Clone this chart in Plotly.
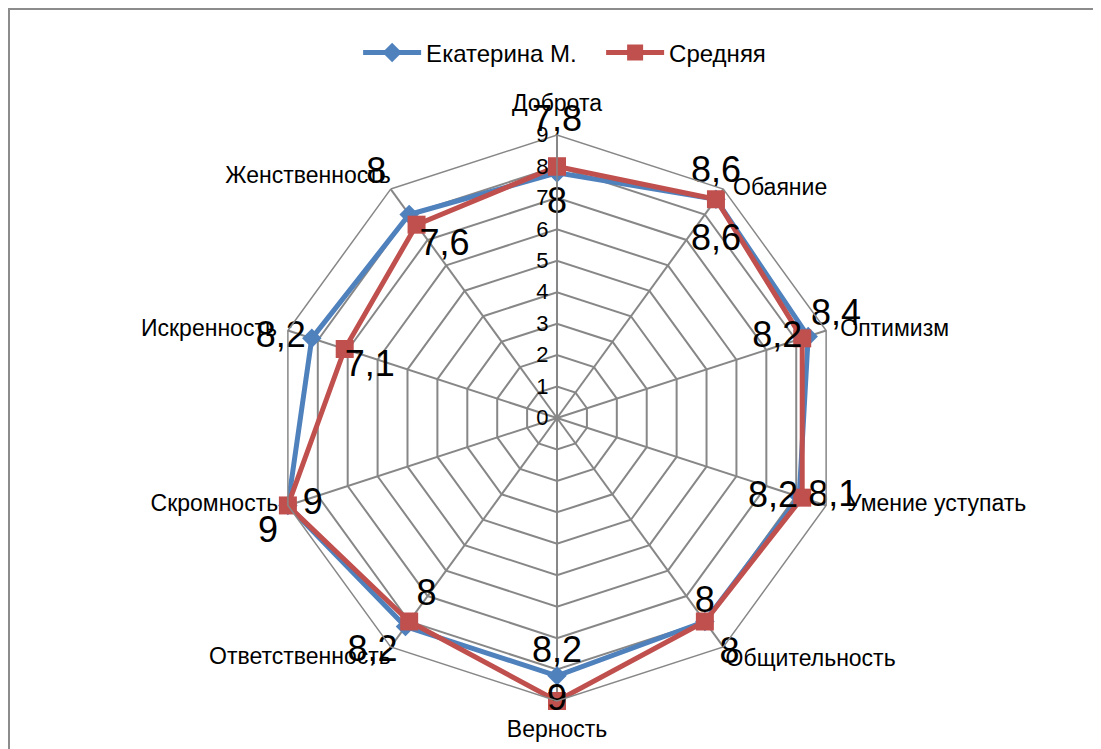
import plotly.graph_objects as go

# данные
categories = ["Доброта", "Обаяние", "Оптимизм", "Умение уступать", "Общительность",
              "Верность", "Ответственность", "Скромность", "Искренность", "Женственность"]
ekaterina = [7.8, 8.6, 8.4, 8.1, 8, 8.2, 8.2, 9, 8.2, 8]
srednyaya = [8, 8.6, 8.2, 8.2, 8, 9, 8, 9, 7.1, 7.6]
radial_ticks = list(range(0, 10))
R_MAX = radial_ticks[-1]

BLUE = "#4F81BD"
RED = "#C0504D"
GRID = "#878787"
FONT = "Liberation Sans"

# расположение подписей данных (как в исходной диаграмме)
ek_pos = ["top center", "top center", "top right", "middle right", "bottom right",
          "top center", "bottom left", "bottom left", "middle left", "top left"]
ek_pad = [51, 11, 3, 13, 22, 6, 11, 14, 8, 35]
sr_pos = ["bottom center", "bottom center", "middle left", "middle left", "top center",
          "middle center", "top right", "middle right", "bottom right", "bottom right"]
sr_pad = [29, 37, 0, 5, 0, 0, 10, 22, 0, 3]
# подписи категорий
cat_pos = ["top center", "middle right", "middle right", "middle right", "bottom right",
           "bottom center", "bottom left", "middle left", "middle left", "top left"]
cat_pad = [27, 14, 21, 32, 2, 29, 0, 14, 16, 0]


def fmt(v):
    return f"{v:g}".replace(".", ",")


def closed(lst):
    return list(lst) + [lst[0]]


fig = go.Figure()

fig.add_trace(go.Scatterpolar(
    r=[R_MAX] * len(categories), theta=categories, mode="markers+text",
    text=categories, textposition=cat_pos,
    textfont=dict(family=FONT, size=23, color="black"),
    marker=dict(size=cat_pad, opacity=0, line=dict(width=0)),
    showlegend=False, hoverinfo="skip", cliponaxis=False,
))

fig.add_trace(go.Scatterpolar(
    r=closed(ekaterina), theta=closed(categories), name="Екатерина М.",
    mode="lines+markers",
    line=dict(color=BLUE, width=5),
    marker=dict(symbol="diamond", size=15, color=BLUE),
    cliponaxis=False,
))
fig.add_trace(go.Scatterpolar(
    r=closed(srednyaya), theta=closed(categories), name="Средняя",
    mode="lines+markers",
    line=dict(color=RED, width=5),
    marker=dict(symbol="square", size=18, color=RED),
    cliponaxis=False,
))

# подписи значений
for vals, pos, pad in [(ekaterina, ek_pos, ek_pad), (srednyaya, sr_pos, sr_pad)]:
    fig.add_trace(go.Scatterpolar(
        r=vals, theta=categories, mode="markers+text",
        text=[fmt(v) for v in vals], textposition=pos,
        textfont=dict(family=FONT, size=36, color="black"),
        marker=dict(size=pad, opacity=0, line=dict(width=0)),
        showlegend=False, hoverinfo="skip", cliponaxis=False,
    ))

# страница сдвигает рисунок на 8 px (поле body), поэтому всё смещено на 8 px
fig.update_layout(
    width=1101, height=749,
    margin=dict(l=0, r=0, t=0, b=0),
    paper_bgcolor="white", plot_bgcolor="white",
    font=dict(family=FONT, size=23, color="black"),
    showlegend=True,
    legend=dict(orientation="h", x=0.318, xanchor="left", y=0.940, yanchor="middle",
                font=dict(size=24), itemwidth=58, entrywidth=170),
    polar=dict(
        domain=dict(x=[0.2416, 0.7557], y=[0.0748, 0.8304]),
        bgcolor="white",
        gridshape="linear",
        angularaxis=dict(
            rotation=90, direction="clockwise",
            showline=True, linecolor=GRID, linewidth=1.5,
            gridcolor=GRID, gridwidth=1.5, ticks="", showticklabels=False,
        ),
        radialaxis=dict(
            range=[0, R_MAX], tickvals=radial_ticks, angle=90, side="counterclockwise",
            showline=True, linecolor=GRID, linewidth=1.5,
            gridcolor=GRID, gridwidth=1.5, ticks="",
            tickfont=dict(size=22), tickangle=90,
        ),
    ),
    shapes=[dict(type="rect", xref="paper", yref="paper",
                 x0=1 / 1101, x1=1.05, y0=-0.05, y1=1 - 1 / 749,
                 line=dict(color="#8c8c8c", width=2), fillcolor="rgba(0,0,0,0)",
                 layer="below")],
)

fig.write_html("out.html")
